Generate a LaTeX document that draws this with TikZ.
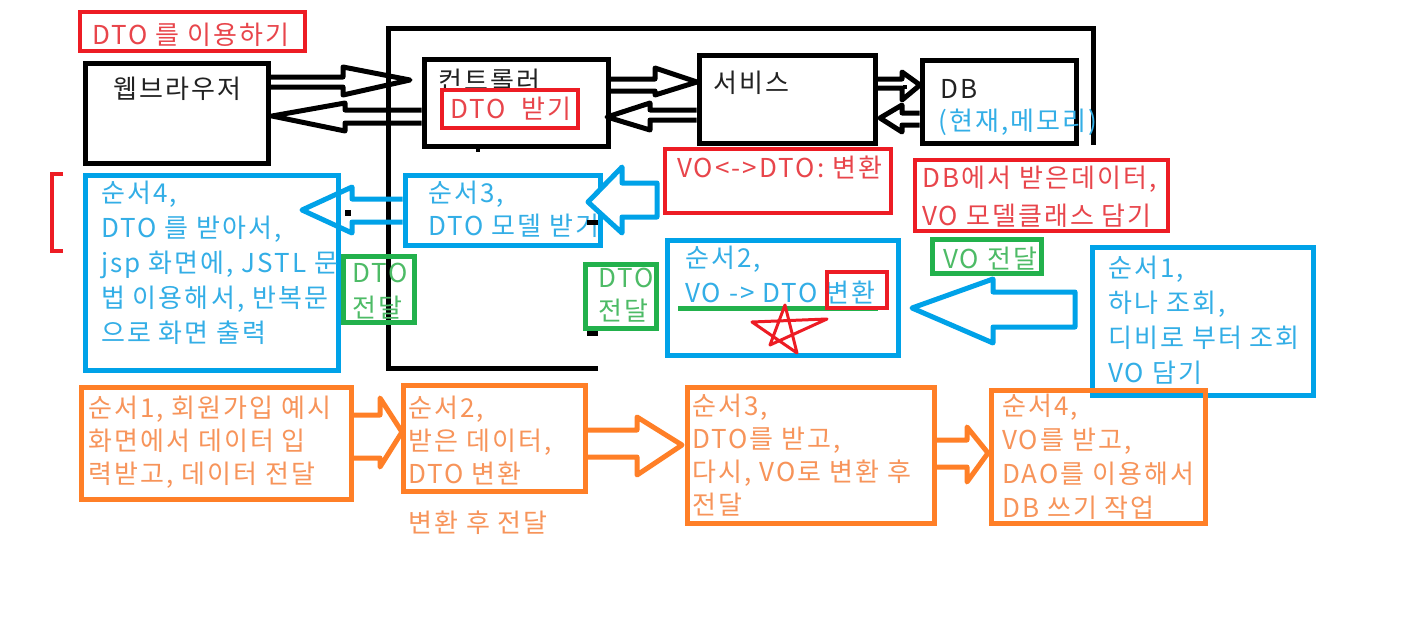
\documentclass[tikz,border=0pt]{standalone}
\usepackage{fontspec}
\newfontfamily\krfont{Noto Sans CJK KR}[LetterSpace=8.0]
\usetikzlibrary{fit}
\definecolor{cred}{HTML}{ED1C24}
\definecolor{cblue}{HTML}{00A2E8}
\definecolor{cgreen}{HTML}{22B14C}
\definecolor{corange}{HTML}{FF7F27}
\definecolor{credt}{HTML}{E8454B}
\definecolor{cbluet}{HTML}{33AEE6}
\definecolor{cgreent}{HTML}{4DBB66}
\definecolor{coranget}{HTML}{F7945A}
\definecolor{cblackt}{HTML}{222222}
\begin{document}
\begin{tikzpicture}[x=1pt,y=-1pt,
  box/.style={draw=#1, line width=5pt, inner sep=0pt},
  txt/.style={text=#1, font=\krfont\fontsize{26}{34}\selectfont, inner sep=0pt, anchor=base west, align=left},
  barrow/.style={draw=#1, line width=5pt, line join=round},
  tick/.style={fill=black, draw=none}
]
\useasboundingbox[fill=white] (0,0) rectangle (1416,640);

% frame
\draw[line width=5pt] (598,368) -- (388,368) -- (388,28) -- (1093,28) -- (1093,145);

% black boxes
\node[box=black, fit={(85,63)(268,163)}] (browser) {};
\node[box=black, fit={(424,59)(608,146)}] (ctrl) {};
\node[box=black, fit={(699,55)(875,143)}] (svc) {};
\node[box=black, fit={(922,60)(1076,143)}] (db) {};

\node[txt=cblackt] (browsert) at (113,98) {웹브라우저};
\node[txt=cblackt] (ctrlt) at (438,90) {컨트롤러};
\node[txt=cblackt] (svct) at (713,92) {서비스};
\node[txt=cblackt] (dbt) at (940,98) {DB};
\node[txt=cbluet] (dbmem) at (938,130) {(현재,메모리)};

% red boxes
\node[box=cred, line width=4.5pt, fit={(80,12)(305,51)}] (usedto) {};
\node[txt=credt] (usedtot) at (92,44) {DTO 를 이용하기};
\node[box=cred, line width=4.5pt, fill=white, fit={(442,90)(578,128)}] (recv) {};
\node[txt=credt] (recvt) at (450,118) {DTO\ \ 받기};
\node[box=cred, line width=4.5pt, fit={(665,149)(891,213)}] (conv) {};
\node[txt=credt] (convt) at (677,177) {VO<->DTO: 변환};
\node[box=cred, line width=4.5pt, fit={(915,160)(1168,231)}] (dbrecv) {};
\node[txt=credt, font=\krfont\fontsize{26}{38}\selectfont] (dbrecvt) at (922,225) {DB에서 받은데이터,\\VO 모델클래스 담기};
\draw[cred, line width=4.5pt] (63,174) -- (52,174) -- (52,251) -- (63,251);

% blue boxes
\node[box=cblue, fit={(85,175)(338,370)}] (s4) {};
\node[txt=cbluet, font=\krfont\fontsize{26}{34.8}\selectfont] (s4t) at (101,342) {순서4,\\DTO 를 받아서,\\jsp 화면에, JSTL 문\\법 이용해서, 반복문\\으로 화면 출력};
\node[box=cblue, fit={(405,175)(600,245)}] (s3) {};
\node[txt=cbluet, font=\krfont\fontsize{26}{33}\selectfont] (s3t) at (428,235) {순서3,\\DTO 모델 받기};
\node[box=cblue, fit={(667,240)(898,355)}] (s2) {};
\node[txt=cbluet, font=\krfont\fontsize{26}{35}\selectfont] (s2t) at (685,302) {순서2,\\VO -> DTO 변환};
\node[box=cblue, fit={(1092,247)(1313,395)}] (s1) {};
\node[txt=cbluet, font=\krfont\fontsize{26}{34.7}\selectfont] (s1t) at (1108,382) {순서1,\\하나 조회,\\디비로 부터 조회\\VO 담기};

% green boxes
\node[box=cgreen, fit={(343,256)(414,322)}] (g1) {};
\node[txt=cgreent, font=\krfont\fontsize{26}{35}\selectfont] (g1t) at (352,317) {DTO\\전달};
\node[box=cgreen, fit={(585,264)(656,328)}] (g2) {};
\node[txt=cgreent, font=\krfont\fontsize{26}{33}\selectfont] (g2t) at (598,320) {DTO\\전달};
\node[box=cgreen, fit={(932,239)(1041,273)}] (g3) {};
\node[txt=cgreent] (g3t) at (943,268) {VO 전달};

% underline, red mark, star in step 2
\draw[cgreen, line width=5pt] (678,308) -- (878,308);
\node[box=cred, line width=4.5pt, fit={(827,272)(887,308)}] (convmark) {};
\draw[cred, line width=3pt, line join=round] (785,305) -- (797,353) -- (752,322) -- (827,319) -- (770,345) -- cycle;

% orange boxes
\node[box=corange, fit={(81,387)(351,499)}] (o1) {};
\node[txt=coranget, font=\krfont\fontsize{26}{33}\selectfont] (o1t) at (88,483) {순서1, 회원가입 예시\\화면에서 데이터 입\\력받고, 데이터 전달};
\node[box=corange, fit={(403,385)(585,491)}] (o2) {};
\node[txt=coranget, font=\krfont\fontsize{26}{33}\selectfont] (o2t) at (408,483) {순서2,\\받은 데이터,\\DTO 변환};
\node[txt=coranget] (o2note) at (408,532) {변환 후 전달};
\node[box=corange, fit={(687,387)(934,523)}] (o3) {};
\node[txt=coranget, font=\krfont\fontsize{26}{33}\selectfont] (o3t) at (692,514) {순서3,\\DTO를 받고,\\다시, VO로 변환 후\\전달};
\node[box=corange, fit={(991,390)(1205,523)}] (o4) {};
\node[txt=coranget, font=\krfont\fontsize{26}{34}\selectfont] (o4t) at (1002,517) {순서4,\\VO를 받고,\\DAO를 이용해서\\DB 쓰기 작업};

% black block arrows
\draw[barrow=black] (browser.east |- 0,77) -- (343,77) -- (343,67) -- (410,80) -- (343,95) -- (343,87) -- (browser.east |- 0,87);
\draw[barrow=black] (ctrl.west |- 0,110) -- (345,110) -- (345,103) -- (272,116) -- (345,131) -- (345,123) -- (ctrl.west |- 0,123);
\draw[barrow=black] (ctrl.east |- 0,79) -- (655,79) -- (655,68) -- (697,82) -- (655,95) -- (655,91) -- (ctrl.east |- 0,91);
\draw[barrow=black] (svc.west |- 0,110) -- (650,110) -- (650,103) -- (607,117) -- (650,130) -- (650,120) -- (svc.west |- 0,120);
\draw[barrow=black] (svc.east |- 0,79) -- (902,79) -- (902,72) -- (920,85) -- (902,100) -- (902,88) -- (svc.east |- 0,88);
\draw[barrow=black] (db.west |- 0,113) -- (902,113) -- (902,105) -- (880,118) -- (902,132) -- (902,125) -- (db.west |- 0,125);

% blue block arrows
\draw[barrow=cblue] (s3.west |- 0,199) -- (352,199) -- (352,187) -- (302,210) -- (352,233) -- (352,222) -- (s3.west |- 0,222);
\draw[barrow=cblue, fill=white] (657,183) -- (622,183) -- (622,167) -- (588,202) -- (622,233) -- (622,217) -- (657,217) -- cycle;
\draw[barrow=cblue] (1075,292) -- (993,292) -- (993,279) -- (912,308) -- (993,343) -- (993,327) -- (1075,327) -- cycle;

% orange block arrows
\draw[barrow=corange] (o1.east |- 0,415) -- (380,415) -- (380,398) -- (402,432) -- (380,467) -- (380,458) -- (o1.east |- 0,458);
\draw[barrow=corange] (o2.east |- 0,430) -- (637,430) -- (637,417) -- (682,445) -- (637,475) -- (637,457) -- (o2.east |- 0,457);
\draw[barrow=corange] (o3.east |- 0,440) -- (967,440) -- (967,427) -- (988,453) -- (967,482) -- (967,467) -- (o3.east |- 0,467);

% small black marks
\fill[tick] (345,210) rectangle (351,216);
\fill[tick] (903,85) rectangle (907,89);
\fill[tick] (587,220) rectangle (598,225);
\fill[tick] (587,331) rectangle (598,336);
\fill[tick] (476,146) rectangle (480,152);
\end{tikzpicture}
\end{document}
